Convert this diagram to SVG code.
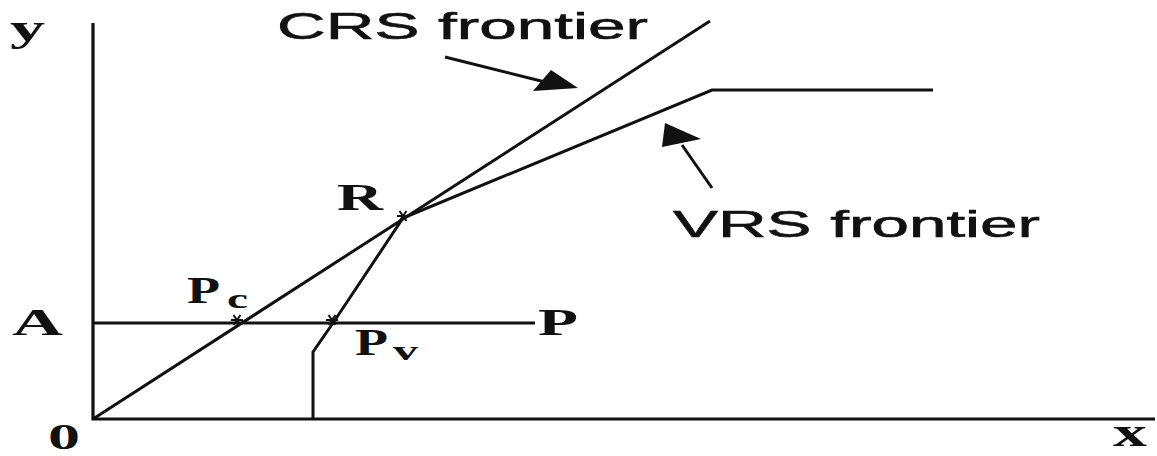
<svg xmlns="http://www.w3.org/2000/svg" width="1157" height="456" viewBox="0 0 1157 456">
<style>
.ln{fill:none;stroke:#111;stroke-width:3.2;stroke-linejoin:miter}
.thin{fill:none;stroke:#111;stroke-width:3}
.sr{font-family:"Liberation Serif","Times New Roman",serif;font-weight:bold;fill:#111}
.ss{font-family:"Liberation Sans",Arial,sans-serif;fill:#111;stroke:#111;stroke-width:0.6}
.star{fill:none;stroke:#111;stroke-width:2}
.head{fill:#111;stroke:none}
</style>
<defs>
<g id="ast"><path class="star" d="M-6,0H6M-3.5,-5L3.5,5M3.5,-5L-3.5,5"/></g>
</defs>
<rect width="1157" height="456" fill="#fff"/>
<g id="axes">
<path class="ln" d="M93,23V419H1155"/>
</g>
<g id="connectors">
<path id="crs" class="thin" d="M93,419L710,21"/>
<path id="vrs" class="thin" d="M313,419V352L333,323L403,218L712,90H933"/>
<path id="ap" class="thin" d="M93,323H535"/>
<path class="thin" d="M445,57L545,82"/>
<polygon class="head" points="578,88 551,70 533,91"/>
<path class="thin" d="M712,188L682,145"/>
<polygon class="head" points="665,123 662,147 701,139"/>
</g>
<g id="points">
<use href="#ast" x="403" y="216"/>
<use href="#ast" x="237" y="320"/>
<use href="#ast" x="332" y="320"/>
</g>
<g id="labels">
<text class="sr" x="10" y="41" font-size="38" textLength="35" lengthAdjust="spacingAndGlyphs">y</text>
<text class="ss" x="277" y="39" font-size="36" textLength="371" lengthAdjust="spacingAndGlyphs">CRS frontier</text>
<text class="ss" x="673" y="237" font-size="37" textLength="367" lengthAdjust="spacingAndGlyphs">VRS frontier</text>
<text class="sr" x="337" y="210" font-size="38" textLength="46" lengthAdjust="spacingAndGlyphs">R</text>
<text class="sr" x="187" y="303" font-size="38" textLength="33" lengthAdjust="spacingAndGlyphs">P</text>
<text class="sr" x="227" y="308" font-size="28" textLength="21" lengthAdjust="spacingAndGlyphs">c</text>
<text class="sr" x="12" y="335" font-size="38" textLength="51" lengthAdjust="spacingAndGlyphs">A</text>
<text class="sr" x="538" y="335" font-size="38" textLength="40" lengthAdjust="spacingAndGlyphs">P</text>
<text class="sr" x="355" y="355" font-size="38" textLength="33" lengthAdjust="spacingAndGlyphs">P</text>
<text class="sr" x="393" y="360" font-size="28" textLength="25" lengthAdjust="spacingAndGlyphs">v</text>
<text class="sr" x="48" y="449" font-size="36" textLength="32" lengthAdjust="spacingAndGlyphs">0</text>
<text class="sr" x="1113" y="446" font-size="41" textLength="34" lengthAdjust="spacingAndGlyphs">x</text>
</g>
</svg>
